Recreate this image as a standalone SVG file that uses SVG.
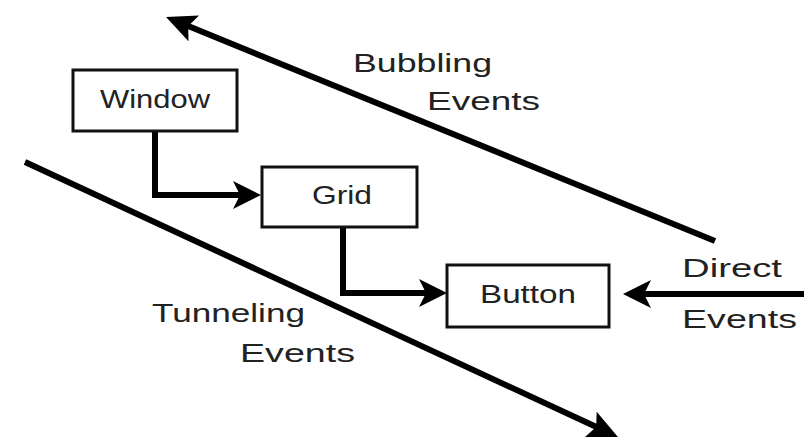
<svg xmlns="http://www.w3.org/2000/svg" width="804" height="437" viewBox="0 0 804 437">
<style>
.box{fill:#fff;stroke:#111;stroke-width:3}
.lbl{font-family:"Liberation Sans",Arial,sans-serif;font-size:26px;fill:#222}
.conn{fill:none;stroke:#000;stroke-width:6;stroke-linejoin:miter}
</style>
<defs>
<marker id="ah" markerUnits="userSpaceOnUse" markerWidth="32" markerHeight="32" refX="18" refY="14" orient="auto" viewBox="0 0 32 32">
<path d="M0,0 L28,14 L0,28 L7,14 z" fill="#000"/>
</marker>
<marker id="ahb" markerUnits="userSpaceOnUse" markerWidth="36" markerHeight="36" refX="20" refY="14" orient="auto" viewBox="0 0 36 36">
<path d="M0,0 L30,14 L0,28 L6,14 z" fill="#000"/>
</marker>
</defs>
<rect width="804" height="437" fill="#fff"/>
<g id="connectors">
<path class="conn" d="M155,131 V195 H251" marker-end="url(#ah)"/>
<path class="conn" d="M343,227 V293 H437" marker-end="url(#ah)"/>
<path class="conn" d="M804,294 H633" marker-end="url(#ah)"/>
<path class="conn" d="M715,241 L175.3,20.8" marker-end="url(#ahb)"/>
<path class="conn" d="M25,162 L608.9,432.8" marker-end="url(#ahb)"/>
</g>
<g id="window">
<rect class="box" x="73" y="70" width="164" height="61"/>
<text class="lbl" x="100" y="108" textLength="110" lengthAdjust="spacingAndGlyphs">Window</text>
</g>
<g id="grid">
<rect class="box" x="262" y="167" width="155" height="60"/>
<text class="lbl" x="312" y="204" textLength="60" lengthAdjust="spacingAndGlyphs">Grid</text>
</g>
<g id="button">
<rect class="box" x="447" y="265" width="162" height="62"/>
<text class="lbl" x="480" y="303" textLength="96" lengthAdjust="spacingAndGlyphs">Button</text>
</g>
<g id="labels">
<text class="lbl" x="353" y="72" textLength="139" lengthAdjust="spacingAndGlyphs">Bubbling</text>
<text class="lbl" x="427" y="110" textLength="113" lengthAdjust="spacingAndGlyphs">Events</text>
<text class="lbl" x="682" y="277" textLength="100" lengthAdjust="spacingAndGlyphs">Direct</text>
<text class="lbl" x="682" y="328" textLength="115" lengthAdjust="spacingAndGlyphs">Events</text>
<text class="lbl" x="152" y="322" textLength="153" lengthAdjust="spacingAndGlyphs">Tunneling</text>
<text class="lbl" x="240" y="362" textLength="115" lengthAdjust="spacingAndGlyphs">Events</text>
</g>
</svg>
